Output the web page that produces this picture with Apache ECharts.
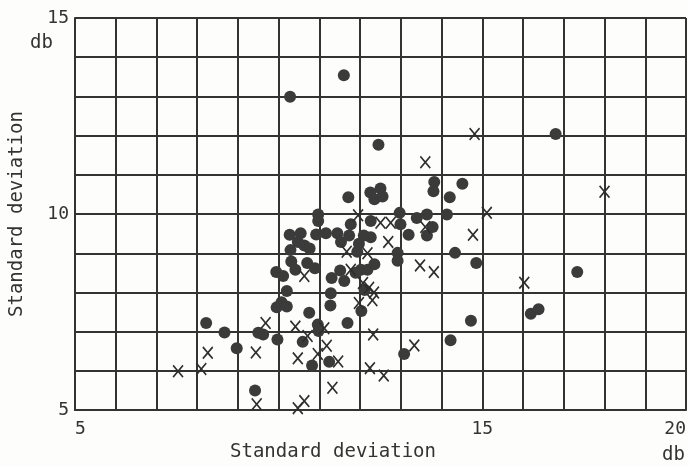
<!DOCTYPE html>
<html>
<head>
<meta charset="utf-8">
<script src="https://cdn.jsdelivr.net/npm/echarts@6/dist/echarts.min.js"></script>
<style>
  html, body { margin: 0; padding: 0; background: #fdfdfb; }
  #main { width: 689px; height: 467px; }
</style>
</head>
<body>
<div id="main"></div>
<script>
// 黑点
var dotsX = [8.22, 8.67, 8.97, 9.42, 9.50, 9.62, 9.97, 9.95, 10.07, 10.2, 10.2, 10.75, 10.59, 10.96, 10.98,
  10.82, 11.69, 11.24, 11.28, 11.27, 12.11, 12.03, 13.08, 14.22, 14.72, 16.19, 16.38, 17.33, 14.85, 14.33,
  14.13, 14.2, 14.51, 13.82, 13.8, 16.8, 12.45, 11.6, 10.28, 11.71, 12.25, 12.5, 12.35, 12.55, 10.97,
  10.97, 10.27, 10.54, 10.92, 10.47, 10.63, 10.76, 10.29, 10.31, 10.41, 10.70, 10.89, 9.94, 10.11, 11.16,
  11.44, 11.73, 11.53, 11.77, 12.26, 12.97, 12.99, 13.39, 13.64, 13.78, 13.64, 13.19, 12.92, 12.92, 12.09,
  12.26, 11.97, 11.93, 12.35, 12.02, 12.18, 11.89, 11.51, 11.30, 11.61];
var dotsY = [7.22, 6.98, 6.58, 5.50, 6.97, 6.93, 6.80, 7.62, 7.75, 7.64, 8.04, 7.48, 6.74, 7.18, 7.02,
  6.14, 7.22, 6.23, 7.98, 7.67, 8.06, 7.53, 6.43, 6.78, 7.28, 7.46, 7.57, 8.52, 8.75, 9.01,
  9.99, 10.43, 10.77, 10.82, 10.58, 12.04, 11.77, 13.54, 12.99, 10.43, 10.55, 10.65, 10.38, 10.45, 9.99,
  9.82, 9.47, 9.51, 9.48, 9.29, 9.20, 9.12, 9.08, 8.79, 8.58, 8.75, 8.62, 8.52, 8.42, 9.51,
  9.51, 9.45, 9.29, 9.74, 9.82, 10.03, 9.74, 9.90, 9.99, 9.67, 9.45, 9.47, 9.01, 8.81, 9.45,
  9.41, 9.24, 9.04, 8.72, 8.58, 8.58, 8.50, 8.56, 8.37, 8.29];
// 叉
var crossesX = [7.53, 8.10, 8.26, 9.44, 9.46, 9.68, 10.41, 10.71, 10.47, 10.96, 10.63, 10.47, 11.32, 11.12,
  11.18, 11.46, 12.32, 12.24, 12.58, 13.33, 11.97, 12.30, 12.34, 12.22, 12.07, 10.63, 11.77, 12.18, 11.67,
  12.69, 11.95, 12.5, 12.75, 13.6, 13.47, 13.81, 14.77, 15.11, 13.6, 14.81, 18.0, 16.03];
var crossesY = [5.99, 6.05, 6.46, 6.47, 5.15, 7.22, 7.13, 6.89, 6.32, 6.43, 5.23, 5.05, 5.57, 7.09,
  6.64, 6.24, 6.93, 6.07, 5.88, 6.65, 7.73, 7.80, 8.00, 8.12, 8.24, 8.42, 8.58, 9.00, 9.04,
  9.29, 9.97, 9.78, 9.78, 9.67, 8.69, 8.52, 9.47, 10.03, 11.32, 12.04, 10.57, 8.25];
var xTickLabels = { 5: "5", 15: "15", 20: "20" };
var yTickLabels = { 5: "5", 10: "10", 15: "15" };

(function () {
  var ink = "#333";
  var font = "DejaVu Sans Mono";
  var myChart = echarts.init(document.getElementById("main"));

  function pairs(xs, ys) {
    return xs.map(function (x, i) { return [x, ys[i]]; });
  }

  var option = {
    backgroundColor: "#fdfdfb",
    animation: false,
    grid: { left: 72, right: 2, top: 18, bottom: 46 },
    xAxis: {
      type: "value",
      min: 5, max: 20, interval: 1,
      name: "Standard deviation",
      nameLocation: "middle",
      nameGap: 29,
      nameTextStyle: { color: ink, fontFamily: font, fontSize: 19, padding: [0, 95, 0, 0] },
      axisLine: { lineStyle: { color: ink, width: 2 } },
      axisTick: { show: false },
      splitLine: { lineStyle: { color: ink, width: 2 } },
      axisLabel: {
        color: ink, fontFamily: font, fontSize: 18, margin: 10,
        alignMinLabel: "left", alignMaxLabel: "right",
        formatter: function (v) { return xTickLabels[v] || ""; }
      }
    },
    yAxis: {
      type: "value",
      min: 5, max: 15, interval: 1,
      name: "Standard deviation",
      nameLocation: "middle",
      nameGap: 48,
      nameTextStyle: { color: ink, fontFamily: font, fontSize: 19 },
      axisLine: { show: true, lineStyle: { color: ink, width: 2 } },
      axisTick: { show: false },
      splitLine: { lineStyle: { color: ink, width: 2 } },
      axisLabel: {
        color: ink, fontFamily: font, fontSize: 18, margin: 6,
        formatter: function (v) { return yTickLabels[v] || ""; }
      }
    },
    graphic: [
      { type: "text", left: 30, top: 34, style: { text: "db", fill: ink, font: "19px " + font } },
      { type: "text", left: 662, top: 446, style: { text: "db", fill: ink, font: "19px " + font } }
    ],
    series: [
      {
        name: "dots",
        type: "scatter",
        symbol: "circle",
        symbolSize: 12,
        itemStyle: { color: "#3b3b3b", opacity: 1 },
        data: pairs(dotsX, dotsY)
      },
      {
        name: "crosses",
        type: "scatter",
        symbol: "path://M0,1L1,0L5,4L9,0L10,1L6,5L10,9L9,10L5,6L1,10L0,9L4,5Z",
        symbolSize: [11, 13],
        itemStyle: { color: "#2e2e2e", opacity: 1 },
        data: pairs(crossesX, crossesY)
      }
    ]
  };

  myChart.setOption(option);
  window.addEventListener("resize", function () {
    myChart.resize();
  });
})();
</script>
</body>
</html>
